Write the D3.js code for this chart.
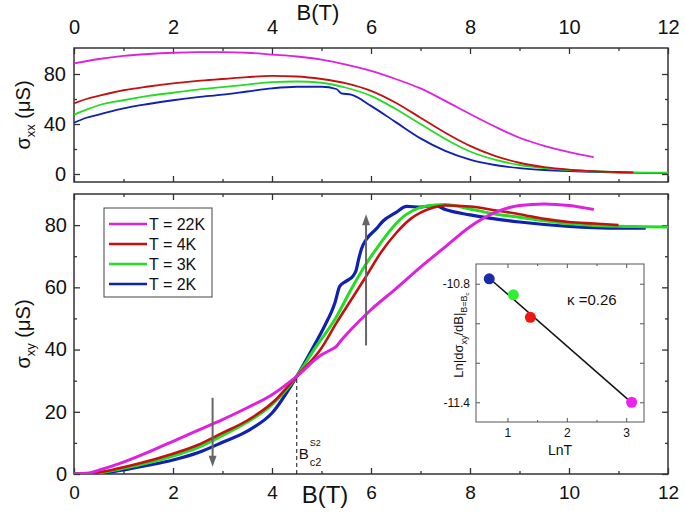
<!DOCTYPE html>
<html><head><meta charset="utf-8">
<script src="https://cdn.jsdelivr.net/npm/d3@7"></script>
<style>body{margin:0;background:#fff} text{font-family:"Liberation Sans",Arial,sans-serif;fill:#111}</style>
</head><body><svg id="c" width="685" height="517"></svg>
<script>
// ---------- data ----------
const seriesNames = ["T = 22K", "T = 4K", "T = 3K", "T = 2K"];
const seriesColors = ["#dd22dd", "#c41010", "#22dd22", "#1020b0"];

// sigma_xx (top panel)
const xxB_22K = [0,0.5,1,1.5,2,2.5,3,3.5,4,4.5,5,5.5,6,6.5,7,7.5,8,8.5,9,9.5,10,10.5];
const xx_22K  = [88.5,92,94.5,96,97,97.5,97.5,97,95.5,94,91.5,87.5,82.5,76,68.5,58.5,48,38,29,22.5,17.5,13.5];
const xxB_4K  = [0,0.25,0.5,1,1.5,2,2.5,3,3.5,4,4.5,5,5.5,6,6.5,7,7.5,8,8.5,9,9.5,10,10.5,11,11.3];
const xx_4K   = [56.5,60,62.5,67,70,72.5,74.5,76,77.5,78.5,78,76,72.5,66.5,57,45,33,22.5,14.5,9,5.5,3.5,2.3,1.6,1.3];
const xxB_3K  = [0,0.25,0.5,1,1.5,2,2.5,3,3.5,4,4.5,5,5.5,6,6.5,7,7.5,8,8.5,9,9.5,10,10.5,11,11.5,12];
const xx_3K   = [47.5,51.5,55,59,62.5,65,67.5,69.5,71.5,73.5,74,73,69,62.5,52,40,28,18,11.5,7.2,4.8,3.2,2.2,1.5,1.1,1];
const xxB_2K  = [0,0.25,0.5,1,1.5,2,2.5,3,3.5,4,4.5,5,5.3,5.4,5.6,6,6.5,7,7.5,8,8.5,9,9.5,10,10.5,11,11.5,12];
const xx_2K   = [41,45,47.5,52.5,56,59,61.5,63.5,66,68.5,69.8,69.8,68,64.5,63.5,54.5,41.5,28.5,18.5,11.5,7.2,4.7,3.2,2.3,1.7,1.2,0.9,0.7];

// sigma_xy (bottom panel)
const xyB_22K = [0,0.3,0.5,1,1.5,2,2.5,3,3.5,4,4.5,5,5.2,5.3,5.4,5.6,6,6.5,7,7.5,8,8.5,9,9.5,10,10.5];
const xy_22K  = [0,0.3,1.2,3.8,7,10.5,14,17.5,21.3,25.5,31.4,38.3,40,41,43,46.5,52.8,59.5,66.5,73,79.5,84,86.3,86.8,86.3,85];
const xyB_4K  = [0,0.5,1,1.5,2,2.5,3,3.5,4,4.5,5,5.3,5.6,5.9,6.2,6.5,6.8,7,7.25,7.5,8,8.5,9,9.5,10,10.5,11];
const xy_4K   = [0,0.5,2.2,4.2,6.5,9.3,13.2,17.2,22.8,31.4,40.5,48.5,56,63.5,71.2,77.3,82,84,85.6,86.3,86,84.8,83.5,82,81,80.5,80];
const xyB_3K  = [0,0.5,1,1.5,2,2.5,3,3.5,4,4.5,4.85,5.3,5.6,5.9,6.2,6.45,6.7,7,7.3,7.5,8,8.5,9,9.5,10,10.5,11,11.5,12];
const xy_3K   = [0,0.4,1.8,3.6,5.8,8.5,12.4,16.7,22.3,31.4,40,50.5,59.4,67.5,74.4,79.5,83.3,85.7,86.5,86.6,85.2,83.6,82.5,81.4,80.4,79.9,79.6,79.5,79.4];
const xyB_2K  = [0,0.5,1,1.5,2,2.5,3,3.5,4,4.5,4.84,5.06,5.27,5.37,5.5,5.64,5.7,5.75,5.81,5.9,6.1,6.25,6.5,6.72,7,7.3,7.5,8,8.5,9,9.5,10,10.5,11,11.55];
const xy_2K   = [0,0.2,1.3,2.8,4.5,6.8,10.2,13.8,19.6,31.4,41,47.5,55,60.4,62,63.7,65.5,69,72.5,75.3,78.7,81.4,84,86,85.8,86.3,85,83.3,82,81,80.2,79.6,79.2,79,79];

// inset
const insetLnT = [0.693, 1.099, 1.386, 3.091];
const insetVal = [-10.775, -10.856, -10.97, -11.40];
const insetColors = ["#1a2aa8", "#33ee33", "#ee1515", "#ee22ee"];
const fitLnT = [0.693, 3.091];
const fitVal = [-10.772, -11.402];

// ticks
const xMajor = [0,2,4,6,8,10,12];
const xMinor = [1,3,5,7,9,11];
const yxxMajor = [0,40,80];
const yxxMinor = [20,60];
const yxyMajor = [0,20,40,60,80];
const yxyMinor = [10,30,50,70];

// ---------- drawing ----------
const svg = d3.select("#c");
const x = d3.scaleLinear().domain([0,12]).range([74,668]);
const yT = d3.scaleLinear().domain([-6.4,100.8]).range([182,48]);
const yB = d3.scaleLinear().domain([0,90]).range([474,194]);
const frameCol = "#333";

function frame(y0,y1){
  svg.append("rect").attr("x",74).attr("y",y0).attr("width",668-74).attr("height",y1-y0)
    .attr("fill","none").attr("stroke",frameCol).attr("stroke-width",1.5);
}
function axisG(gen, tx, ty, fs){
  const g = svg.append("g").attr("transform",`translate(${tx},${ty})`).call(gen);
  g.select(".domain").remove();
  g.selectAll("line").attr("stroke",frameCol).attr("stroke-width",1.3);
  g.selectAll("text").style("font-size",fs+"px").attr("fill","#111");
  return g;
}
const none = () => "";

// top panel
frame(48,182);
axisG(d3.axisTop(x).tickValues(xMajor).tickSize(-6).tickPadding(14).tickFormat(d3.format("d")),0,48,20);
axisG(d3.axisTop(x).tickValues(xMinor).tickSize(-3).tickFormat(none),0,48,20);
axisG(d3.axisBottom(x).tickValues(xMajor).tickSize(-6).tickFormat(none),0,182,20);
axisG(d3.axisBottom(x).tickValues(xMinor).tickSize(-3).tickFormat(none),0,182,20);
axisG(d3.axisLeft(yT).tickValues(yxxMajor).tickSize(-6).tickPadding(8).tickFormat(d3.format("d")),74,0,20);
axisG(d3.axisLeft(yT).tickValues(yxxMinor).tickSize(-3).tickFormat(none),74,0,20);
axisG(d3.axisRight(yT).tickValues(yxxMajor).tickSize(-6).tickFormat(none),668,0,20);
axisG(d3.axisRight(yT).tickValues(yxxMinor).tickSize(-3).tickFormat(none),668,0,20);

// bottom panel
frame(194,474);
axisG(d3.axisBottom(x).tickValues(xMajor).tickSize(-6).tickPadding(12).tickFormat(d3.format("d")),0,474,19);
axisG(d3.axisBottom(x).tickValues(xMinor).tickSize(-3).tickFormat(none),0,474,19);
axisG(d3.axisTop(x).tickValues(xMajor).tickSize(-6).tickFormat(none),0,194,19);
axisG(d3.axisTop(x).tickValues(xMinor).tickSize(-3).tickFormat(none),0,194,19);
axisG(d3.axisLeft(yB).tickValues(yxyMajor).tickSize(-6).tickPadding(7).tickFormat(d3.format("d")),74,0,20);
axisG(d3.axisLeft(yB).tickValues(yxyMinor).tickSize(-3).tickFormat(none),74,0,20);
axisG(d3.axisRight(yB).tickValues(yxyMajor).tickSize(-6).tickFormat(none),668,0,20);
axisG(d3.axisRight(yB).tickValues(yxyMinor).tickSize(-3).tickFormat(none),668,0,20);

// clips
const defs = svg.append("defs");
defs.append("clipPath").attr("id","clipT").append("rect").attr("x",74).attr("y",48).attr("width",594).attr("height",134);
defs.append("clipPath").attr("id","clipB").append("rect").attr("x",74).attr("y",194).attr("width",594).attr("height",280);

function drawLine(bs, vs, ys, col, w, clip){
  const pts = bs.map((b,i)=>[b, vs[i]]);
  svg.append("path").datum(pts).attr("clip-path",`url(#${clip})`)
    .attr("fill","none").attr("stroke",col).attr("stroke-width",w).attr("stroke-linejoin","round")
    .attr("d", d3.line().x(d=>x(d[0])).y(d=>ys(d[1])).curve(d3.curveMonotoneX));
}
// top curves
drawLine(xxB_2K, xx_2K, yT, seriesColors[3], 1.8, "clipT");
drawLine(xxB_3K, xx_3K, yT, seriesColors[2], 1.8, "clipT");
drawLine(xxB_4K, xx_4K, yT, seriesColors[1], 1.8, "clipT");
drawLine(xxB_22K, xx_22K, yT, seriesColors[0], 1.8, "clipT");
// bottom curves
drawLine(xyB_2K, xy_2K, yB, seriesColors[3], 3.2, "clipB");
drawLine(xyB_3K, xy_3K, yB, seriesColors[2], 3, "clipB");
drawLine(xyB_4K, xy_4K, yB, seriesColors[1], 2.6, "clipB");
drawLine(xyB_22K, xy_22K, yB, seriesColors[0], 3, "clipB");

// axis titles
svg.append("text").attr("x",318).attr("y",20).attr("text-anchor","middle").style("font-size","22px").text("B(T)");
svg.append("text").attr("x",325).attr("y",503).attr("text-anchor","middle").style("font-size","24px").text("B(T)");
function yTitle(cy, sub){
  const t = svg.append("text").attr("transform",`translate(30,${cy}) rotate(-90)`).attr("text-anchor","middle").style("font-size","20px");
  t.append("tspan").text("σ");
  t.append("tspan").attr("dy",5).style("font-size","13px").text(sub);
  t.append("tspan").attr("dy",-5).text(" (μS)");
}
yTitle(115,"xx");
yTitle(334,"xy");

// arrows
const arrows = [{b:2.8, from:24.5, to:2.3},{b:5.9, from:41.3, to:83.5}];
arrows.forEach(a=>{
  const x0 = x(a.b), y0 = yB(a.from), y1 = yB(a.to);
  const dir = y1 > y0 ? 1 : -1;
  svg.append("line").attr("x1",x0).attr("x2",x0).attr("y1",y0).attr("y2",y1-dir*8)
    .attr("stroke","#666").attr("stroke-width",2);
  svg.append("path").attr("d",`M${x0-4},${y1-dir*11}L${x0+4},${y1-dir*11}L${x0},${y1}Z`).attr("fill","#666");
});

// dashed Bc2 line
const bc2 = 4.5, bc2Val = 31.5;
svg.append("line").attr("x1",x(bc2)).attr("x2",x(bc2)).attr("y1",yB(0)).attr("y2",yB(bc2Val))
  .attr("stroke","#111").attr("stroke-width",1).attr("stroke-dasharray","4,3");
const lab = svg.append("g");
lab.append("text").attr("x",x(bc2)+2).attr("y",459).style("font-size","15px").text("B");
lab.append("text").attr("x",x(bc2)+13).attr("y",466).style("font-size","11px").text("c2");
lab.append("text").attr("x",x(bc2)+13).attr("y",446).style("font-size","9px").text("S2");

// legend
const lg = svg.append("g");
lg.append("rect").attr("x",104).attr("y",208).attr("width",108).attr("height",89).attr("fill","#fff").attr("stroke","#444").attr("stroke-width",1);
seriesNames.forEach((n,i)=>{
  const yy = 224 + i*20;
  lg.append("line").attr("x1",109).attr("x2",147).attr("y1",yy).attr("y2",yy).attr("stroke",seriesColors[i]).attr("stroke-width",2.4);
  lg.append("text").attr("x",149).attr("y",yy+6).style("font-size","16px").text(n);
});

// inset
const ix = d3.scaleLinear().domain([0.47,3.3]).range([476,644]);
const iy = d3.scaleLinear().domain([-10.7,-11.5]).range([264,422]);
svg.append("rect").attr("x",476).attr("y",264).attr("width",168).attr("height",158).attr("fill","#fff").attr("stroke","#555").attr("stroke-width",1);
function iAxis(gen, tx, ty){
  const g = svg.append("g").attr("transform",`translate(${tx},${ty})`).call(gen);
  g.select(".domain").remove();
  g.selectAll("line").attr("stroke","#555");
  g.selectAll("text").style("font-size","12px").attr("fill","#222");
}
iAxis(d3.axisBottom(ix).tickValues([1,2,3]).tickSize(-4).tickPadding(6).tickFormat(d3.format("d")),0,422);
iAxis(d3.axisBottom(ix).tickValues([1.5,2.5]).tickSize(-2).tickFormat(none),0,422);
iAxis(d3.axisTop(ix).tickValues([1,2,3]).tickSize(-4).tickFormat(none),0,264);
iAxis(d3.axisTop(ix).tickValues([1.5,2.5]).tickSize(-2).tickFormat(none),0,264);
iAxis(d3.axisLeft(iy).tickValues([-10.8,-11.4]).tickSize(-4).tickPadding(6).tickFormat(d3.format(".1f")),476,0);
iAxis(d3.axisLeft(iy).tickValues([-11.0,-11.2]).tickSize(-4).tickFormat(none),476,0);
iAxis(d3.axisRight(iy).tickValues([-10.8,-11.0,-11.2,-11.4]).tickSize(-4).tickFormat(none),644,0);
svg.selectAll("text").filter(function(){return this.textContent.startsWith("−");}).text(function(){return "-"+this.textContent.slice(1);});

svg.append("path").datum(fitLnT.map((d,i)=>[d,fitVal[i]]))
  .attr("fill","none").attr("stroke","#111").attr("stroke-width",1.5)
  .attr("d", d3.line().x(d=>ix(d[0])).y(d=>iy(d[1])));
svg.selectAll(".ipt").data(insetLnT).enter().append("circle").attr("class","ipt")
  .attr("cx",d=>ix(d)).attr("cy",(d,i)=>iy(insetVal[i])).attr("r",5.5)
  .attr("fill",(d,i)=>insetColors[i]);
svg.append("text").attr("x",567).attr("y",305).style("font-size","15px").text("κ =0.26");
svg.append("text").attr("x",560).attr("y",455).attr("text-anchor","middle").style("font-size","14px").text("LnT");
const it = svg.append("text").attr("transform","translate(463,335) rotate(-90)").attr("text-anchor","middle").style("font-size","13px");
it.append("tspan").text("Ln|dσ");
it.append("tspan").attr("dy",4).style("font-size","9px").text("xy");
it.append("tspan").attr("dy",-4).text("/dB|");
it.append("tspan").attr("dy",4).style("font-size","9px").text("B=B");
it.append("tspan").attr("dy",2).style("font-size","6px").text("c");
</script></body></html>
